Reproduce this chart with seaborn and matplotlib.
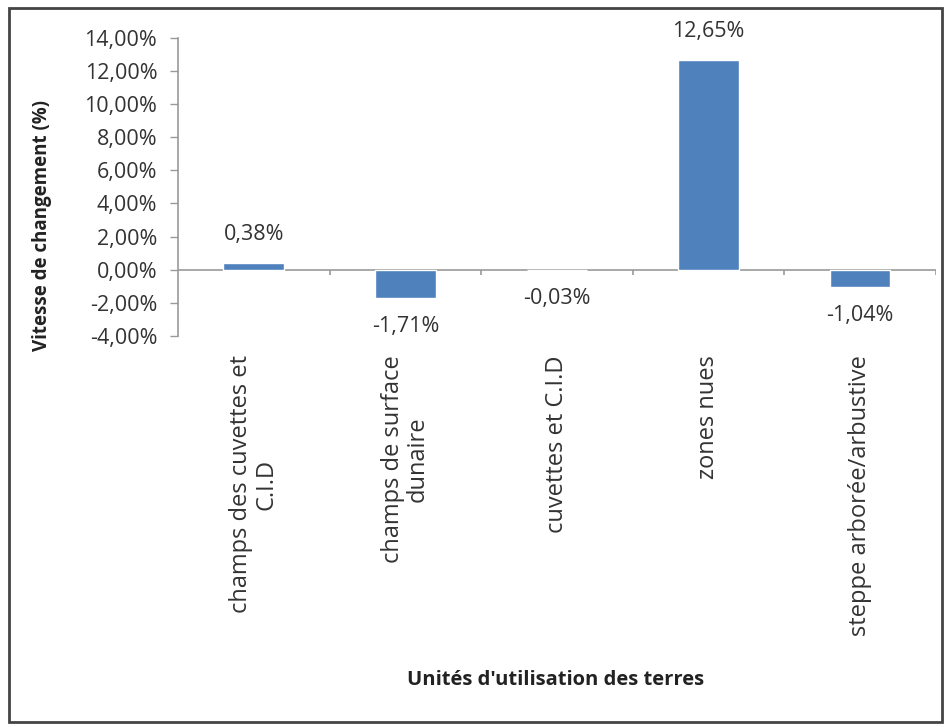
import matplotlib
matplotlib.use("Agg")
import matplotlib.pyplot as plt
import seaborn as sns
from matplotlib.patches import Rectangle
from matplotlib.ticker import FuncFormatter

# données
categories = [
    "champs des cuvettes et\nC.I.D",
    "champs de surface\ndunaire",
    "cuvettes et C.I.D",
    "zones nues",
    "steppe arborée/arbustive",
]
values = [0.38, -1.71, -0.03, 12.65, -1.04]
y_ticks = [-4, -2, 0, 2, 4, 6, 8, 10, 12, 14]

sns.set_theme(style="white")
plt.rcParams["font.family"] = ["Open Sans", "DejaVu Sans"]

fig = plt.figure(figsize=(9.47, 7.27), dpi=100)
ax = fig.add_axes([0.188, 0.538, 0.800, 0.41])

bars = sns.barplot(x=categories, y=values, color="#4F81BD", width=0.4,
                   saturation=1, ax=ax)

ax.set_xlim(-0.5, len(categories) - 0.5)
ax.set_ylim(min(y_ticks), max(y_ticks))
ax.set_yticks(y_ticks)
ax.yaxis.set_major_formatter(FuncFormatter(lambda v, p: f"{v:.2f}%".replace(".", ",")))
ax.tick_params(axis="y", labelsize=15.5, labelcolor="#333333", color="#999999",
               length=6, width=1, direction="out", left=True, pad=9)

# axe horizontal à zéro
ax.axhline(0, color="#999999", lw=1.2, zorder=0)
ax.vlines([i + 0.5 for i in range(len(categories))], -0.35, 0,
          color="#999999", lw=1.2)

for s in ["top", "right", "bottom"]:
    ax.spines[s].set_visible(False)
ax.spines["left"].set_color("#999999")
ax.spines["left"].set_linewidth(1.2)

ax.set_xticks(range(len(categories)))
ax.set_xticklabels(categories, rotation=90, va="top", ha="center",
                   multialignment="center", fontsize=17, color="#333333",
                   linespacing=1.05)
ax.tick_params(axis="x", length=0, pad=14)

# étiquettes des valeurs
labels = [f"{v:.2f}%".replace(".", ",") for v in values]
ax.bar_label(bars.containers[0], labels=labels, padding=13, fontsize=15.5,
             color="#333333")

ax.set_ylabel("Vitesse de changement (%)", fontsize=13.5, fontweight="bold",
              color="#222222")
ax.yaxis.set_label_coords(-0.167, 0.37)
fig.text(0.587, 0.065, "Unités d'utilisation des terres", ha="center",
         va="center", fontsize=14.5, fontweight="bold", color="#222222")

# cadre du graphique
fig.patches.append(Rectangle((0.009, 0.007), 0.986, 0.982, transform=fig.transFigure,
                             fill=False, edgecolor="#444444", lw=2))

fig.savefig("out.png", dpi=100, facecolor="white")
